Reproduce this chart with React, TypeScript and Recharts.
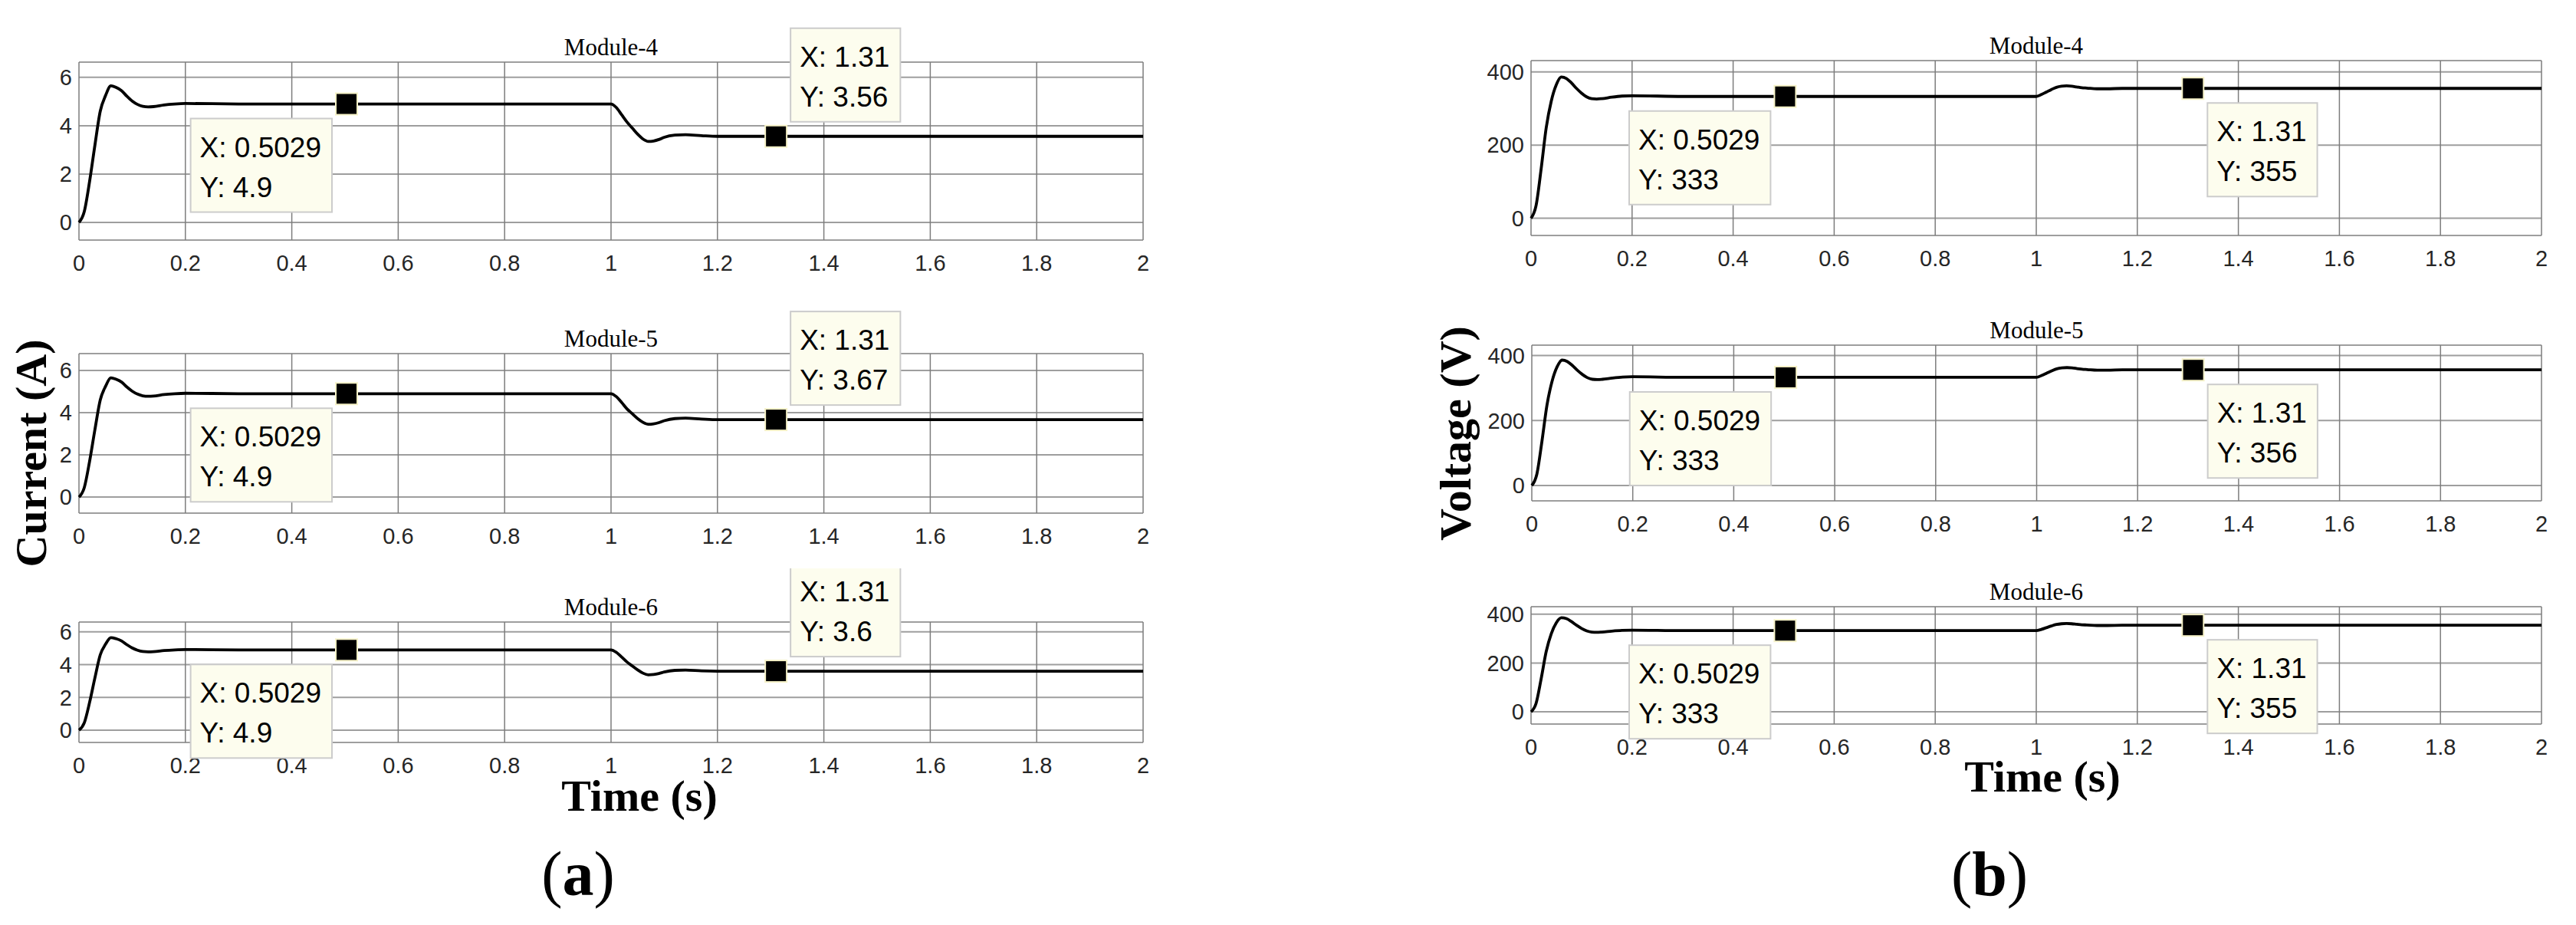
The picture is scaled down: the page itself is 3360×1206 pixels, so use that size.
import React from 'react';
import { LineChart, Line, XAxis, YAxis, CartesianGrid, ReferenceDot } from 'recharts';

// simulation time (s)
const time = [0, 0.01, 0.02, 0.03, 0.04, 0.05, 0.06, 0.07, 0.08, 0.09, 0.1, 0.11, 0.12, 0.13, 0.14, 0.16, 0.18, 0.2, 0.3, 0.5029, 0.7, 1.0, 1.01, 1.02, 1.03, 1.04, 1.05, 1.06, 1.07, 1.08, 1.09, 1.1, 1.12, 1.14, 1.17, 1.2, 1.31, 1.6, 2.0];

// module currents (A)
const currentM4 = [0, 0.45, 1.7, 3.2, 4.6, 5.25, 5.65, 5.58, 5.45, 5.22, 5.02, 4.88, 4.8, 4.78, 4.79, 4.86, 4.9, 4.92, 4.9, 4.9, 4.9, 4.9, 4.75, 4.45, 4.15, 3.9, 3.65, 3.45, 3.35, 3.37, 3.43, 3.52, 3.61, 3.63, 3.59, 3.56, 3.56, 3.56, 3.56];
const currentM5 = [0, 0.45, 1.7, 3.2, 4.6, 5.25, 5.65, 5.58, 5.45, 5.22, 5.02, 4.88, 4.8, 4.78, 4.79, 4.86, 4.9, 4.92, 4.9, 4.9, 4.9, 4.9, 4.76, 4.48, 4.18, 3.95, 3.72, 3.54, 3.45, 3.47, 3.53, 3.62, 3.72, 3.74, 3.7, 3.67, 3.67, 3.67, 3.67];
const currentM6 = [0, 0.45, 1.7, 3.2, 4.6, 5.25, 5.65, 5.58, 5.45, 5.22, 5.02, 4.88, 4.8, 4.78, 4.79, 4.86, 4.9, 4.92, 4.9, 4.9, 4.9, 4.9, 4.75, 4.46, 4.16, 3.92, 3.68, 3.48, 3.38, 3.4, 3.46, 3.55, 3.65, 3.67, 3.62, 3.6, 3.6, 3.6, 3.6];

// module voltages (V)
const voltageM4 = [0, 35, 135, 247, 320, 365, 386, 382, 370, 355, 342, 332, 327, 326, 327, 331, 334, 335, 333, 333, 333, 333, 338, 345, 352, 358, 361, 362, 361, 359, 357, 356, 354, 354, 355, 355, 355, 355, 355];
const voltageM5 = [0, 35, 135, 247, 320, 365, 386, 382, 370, 355, 342, 332, 327, 326, 327, 331, 334, 335, 333, 333, 333, 333, 339, 346, 353, 359, 362, 363, 362, 360, 358, 357, 355, 355, 356, 356, 356, 356, 356];
const voltageM6 = [0, 35, 135, 247, 320, 365, 386, 382, 370, 355, 342, 332, 327, 326, 327, 331, 334, 335, 333, 333, 333, 333, 338, 345, 352, 358, 361, 362, 361, 359, 357, 356, 354, 354, 355, 355, 355, 355, 355];

const timeTicks = [0, 0.2, 0.4, 0.6, 0.8, 1, 1.2, 1.4, 1.6, 1.8, 2];
const currentTicks = [0, 2, 4, 6];
const voltageTicks = [0, 200, 400];
const moduleTitles = ['Module-4', 'Module-5', 'Module-6'];

// data tips
const tipX = [0.5029, 1.31];
const currentTipY = [[4.9, 3.56], [4.9, 3.67], [4.9, 3.6]];
const voltageTipY = [[333, 355], [333, 356], [333, 355]];

const SANS = '"Liberation Sans", Arial, sans-serif';
const SERIF = '"Liberation Serif", "Times New Roman", serif';
const INK = '#262626';

const TIP_FONT = 37;
let ctx: CanvasRenderingContext2D | null = null;
function textWidth(s: string) {
  if (!ctx) {
    ctx = document.createElement('canvas').getContext('2d');
  }
  if (!ctx) return s.length * TIP_FONT * 0.5;
  ctx.font = `${TIP_FONT}px "Liberation Sans"`;
  return ctx.measureText(s).width;
}

function TipShape(props: any) {
  const { cx, cy, xVal, yVal, dir } = props;
  if (cx == null || cy == null) return null;
  const l1 = `X: ${xVal}`;
  const l2 = `Y: ${yVal}`;
  const w = Math.max(textWidth(l1), textWidth(l2)) + 26;
  const h = 122;
  const g = 19;
  const bx = dir === 'll' ? cx - g - w : cx + g;
  const by = dir === 'ur' ? cy - g - h : cy + g;
  return (
    <g>
      <rect x={bx} y={by} width={w} height={h} fill="#fdfdee" stroke="#cccccc" strokeWidth={2} />
      <text x={bx + 12} y={by + 50} fontFamily={SANS} fontSize={TIP_FONT} fill="#000">{l1}</text>
      <text x={bx + 12} y={by + 102} fontFamily={SANS} fontSize={TIP_FONT} fill="#000">{l2}</text>
      <rect x={cx - 14} y={cy - 14} width={28} height={28} fill="#000" stroke="#f6f2c8" strokeWidth={2} />
    </g>
  );
}

interface PanelProps {
  L: number; R: number; T: number; B: number;
  domain: [number, number];
  yTicks: number[];
  values: number[];
  tips: number[];
  dirs: string[];
}

const ML = 90;   // y label axis width
const MT = 70;   // room above plot for tips
const XH = 50;   // x label axis height
const MB = 40;
const MR = 40;

function Panel({ L, R, T, B, domain, yTicks, values, tips, dirs }: PanelProps) {
  const pw = R - L;
  const ph = B - T;
  const W = ML + pw + MR;
  const H = MT + ph + XH + MB;
  const data = time.map((t, i) => ({ t, v: values[i] }));
  const tickStyle = { fill: INK, fontSize: 29, fontFamily: SANS };
  const edge = { stroke: '#1e1e1e', strokeWidth: 3 };
  const tl = { stroke: INK, strokeWidth: 2 };
  return (
    <div style={{ position: 'absolute', left: L - ML, top: T - MT, width: W, height: H }}>
      <LineChart width={W} height={H} data={data} margin={{ top: MT, right: MR, bottom: MB, left: 0 }}>
        <CartesianGrid xAxisId="x" yAxisId="y" vertical={false} stroke="#9e9e9e" strokeWidth={2} />
        <CartesianGrid xAxisId="x" yAxisId="y" horizontal={false} stroke="#7d7d7d" strokeWidth={1.5} />
        <XAxis xAxisId="x" dataKey="t" type="number" domain={[0, 2]} ticks={timeTicks} height={XH}
          tickSize={0} tickMargin={19} tickLine={false} axisLine={false} tick={tickStyle} interval={0} />
        <XAxis xAxisId="xb" dataKey="t" type="number" domain={[0, 2]} ticks={timeTicks} orientation="bottom" mirror height={0}
          tickSize={14} tickFormatter={() => ''} tickLine={tl} axisLine={edge} interval={0} />
        <XAxis xAxisId="xt" dataKey="t" type="number" domain={[0, 2]} ticks={timeTicks} orientation="top" mirror height={0}
          tickSize={14} tickFormatter={() => ''} tickLine={tl} axisLine={edge} interval={0} />
        <YAxis yAxisId="y" type="number" domain={domain} ticks={yTicks} width={ML} allowDataOverflow
          tickSize={0} tickMargin={9} tickLine={false} axisLine={false} tick={tickStyle} interval={0} />
        <YAxis yAxisId="yl" type="number" domain={domain} ticks={yTicks} orientation="left" mirror width={0} allowDataOverflow
          tickSize={14} tickFormatter={() => ''} tickLine={tl} axisLine={edge} interval={0} />
        <YAxis yAxisId="yr" type="number" domain={domain} ticks={yTicks} orientation="right" mirror width={0} allowDataOverflow
          tickSize={14} tickFormatter={() => ''} tickLine={tl} axisLine={edge} interval={0} />
        <Line xAxisId="x" yAxisId="y" type="monotone" dataKey="v" stroke="#000" strokeWidth={3.8}
          dot={false} activeDot={false} isAnimationActive={false} />
        {tips.map((yv, i) => (
          <ReferenceDot key={i} xAxisId="x" yAxisId="y" x={tipX[i]} y={yv} r={14} zIndex={2000}
            shape={(p: any) => <TipShape {...p} xVal={tipX[i]} yVal={yv} dir={dirs[i]} />} />
        ))}
      </LineChart>
    </div>
  );
}

const geomA = [
  { L: 103, R: 1491, T: 81, B: 313, domain: [-0.73, 6.63] as [number, number] },
  { L: 103, R: 1491, T: 461, B: 669, domain: [-0.76, 6.8] as [number, number] },
  { L: 103, R: 1491, T: 811, B: 968, domain: [-0.75, 6.6] as [number, number] },
];
const geomB = [
  { L: 1997, R: 3315, T: 79, B: 307, domain: [-47, 431] as [number, number] },
  { L: 1998, R: 3315, T: 450, B: 653, domain: [-47, 432] as [number, number] },
  { L: 1997, R: 3315, T: 791, B: 944, domain: [-50, 431] as [number, number] },
];

export default function App() {
  const currents = [currentM4, currentM5, currentM6];
  const voltages = [voltageM4, voltageM5, voltageM6];
  return (
    <div style={{ position: 'absolute', left: 0, top: 0, width: 3360, height: 1206, background: '#fff', overflow: 'hidden' }}>
      <svg width={3360} height={1206} style={{ position: 'absolute', left: 0, top: 0 }}>
        {geomA.map((g, i) => (
          <text key={'ta' + i} x={(g.L + g.R) / 2} y={g.T - 9} textAnchor="middle" fontFamily={SERIF} fontSize={31} fill="#000">{moduleTitles[i]}</text>
        ))}
        {geomB.map((g, i) => (
          <text key={'tb' + i} x={(g.L + g.R) / 2} y={g.T - 9} textAnchor="middle" fontFamily={SERIF} fontSize={31} fill="#000">{moduleTitles[i]}</text>
        ))}
        <text transform="translate(60,591) rotate(-90)" textAnchor="middle" fontFamily={SERIF} fontWeight="bold" fontSize={58}>Current (A)</text>
        <text transform="translate(1918,565) rotate(-90)" textAnchor="middle" fontFamily={SERIF} fontWeight="bold" fontSize={58}>Voltage (V)</text>
        <text x={834} y={1057} textAnchor="middle" fontFamily={SERIF} fontWeight="bold" fontSize={58}>Time (s)</text>
        <text x={2664} y={1032} textAnchor="middle" fontFamily={SERIF} fontWeight="bold" fontSize={58}>Time (s)</text>
        <text x={754} y={1167} textAnchor="middle" fontFamily={SERIF} fontSize={82}>(<tspan fontWeight="bold">a</tspan>)</text>
        <text x={2595} y={1167} textAnchor="middle" fontFamily={SERIF} fontSize={82}>(<tspan fontWeight="bold">b</tspan>)</text>
      </svg>
      {geomA.map((g, i) => (
        <Panel key={'a' + i} {...g} yTicks={currentTicks} values={currents[i]} tips={currentTipY[i]} dirs={['ll', 'ur']} />
      ))}
      {geomB.map((g, i) => (
        <Panel key={'b' + i} {...g} yTicks={voltageTicks} values={voltages[i]} tips={voltageTipY[i]} dirs={['ll', 'lr']} />
      ))}
    </div>
  );
}
